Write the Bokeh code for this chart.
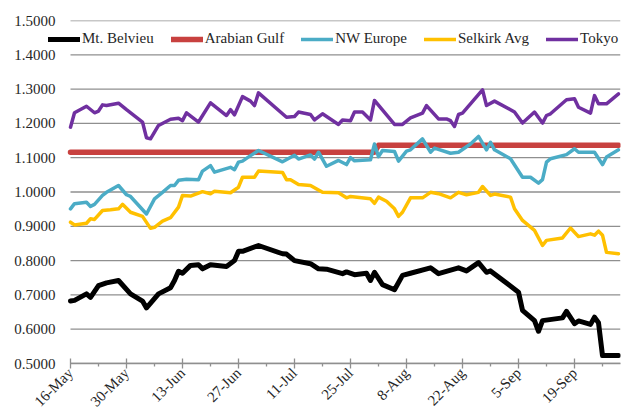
import pandas as pd
from bokeh.plotting import figure
from bokeh.models import FixedTicker, Legend, LegendItem, Range1d, PrintfTickFormatter
from bokeh.embed import file_html
from bokeh.resources import INLINE

# ---------------- data ----------------
tick_dates = ["2011-05-16", "2011-05-30", "2011-06-13", "2011-06-27", "2011-07-11",
              "2011-07-25", "2011-08-08", "2011-08-22", "2011-09-05", "2011-09-19"]
tick_labels = ["16-May", "30-May", "13-Jun", "27-Jun", "11-Jul",
               "25-Jul", "8-Aug", "22-Aug", "5-Sep", "19-Sep"]
y_ticks = [0.5, 0.6, 0.7, 0.8, 0.9, 1.0, 1.1, 1.2, 1.3, 1.4, 1.5]

belvieu_dates = ["2011-05-16", "2011-05-17", "2011-05-20", "2011-05-21", "2011-05-23", "2011-05-25",
                 "2011-05-28", "2011-05-31", "2011-06-03", "2011-06-04", "2011-06-07", "2011-06-10",
                 "2011-06-11", "2011-06-12", "2011-06-13", "2011-06-15", "2011-06-17", "2011-06-18",
                 "2011-06-20", "2011-06-24", "2011-06-26", "2011-06-27", "2011-06-28", "2011-07-02",
                 "2011-07-08", "2011-07-09", "2011-07-11", "2011-07-15", "2011-07-17", "2011-07-19",
                 "2011-07-23", "2011-07-24", "2011-07-26", "2011-07-29", "2011-07-30", "2011-07-31",
                 "2011-08-02", "2011-08-05", "2011-08-07", "2011-08-09", "2011-08-14", "2011-08-16",
                 "2011-08-21", "2011-08-23", "2011-08-26", "2011-08-28", "2011-08-29", "2011-09-05",
                 "2011-09-06", "2011-09-09", "2011-09-10", "2011-09-11", "2011-09-16", "2011-09-17",
                 "2011-09-19", "2011-09-20", "2011-09-23", "2011-09-24", "2011-09-25", "2011-09-26",
                 "2011-09-30"]
belvieu = [0.682, 0.684, 0.703, 0.693, 0.727, 0.735,
           0.742, 0.703, 0.682, 0.662, 0.703, 0.721,
           0.742, 0.769, 0.763, 0.786, 0.788, 0.776,
           0.788, 0.783, 0.800, 0.827, 0.827, 0.844,
           0.820, 0.819, 0.800, 0.791, 0.776, 0.775,
           0.762, 0.767, 0.759, 0.763, 0.742, 0.766,
           0.730, 0.715, 0.757, 0.763, 0.779, 0.762,
           0.779, 0.770, 0.794, 0.766, 0.770, 0.708,
           0.655, 0.625, 0.594, 0.625, 0.633, 0.652,
           0.616, 0.624, 0.614, 0.635, 0.619, 0.523,
           0.523]

arabian_dates = ["2011-05-16", "2011-07-31", "2011-08-01", "2011-09-30"]
arabian = [1.116, 1.116, 1.136, 1.136]

nwe_dates = ["2011-05-16", "2011-05-17", "2011-05-20", "2011-05-21", "2011-05-22", "2011-05-24",
             "2011-05-25", "2011-05-28", "2011-05-30", "2011-05-31", "2011-06-04", "2011-06-06",
             "2011-06-08", "2011-06-10", "2011-06-11", "2011-06-12", "2011-06-14", "2011-06-17",
             "2011-06-18", "2011-06-20", "2011-06-21", "2011-06-25", "2011-06-26", "2011-06-27",
             "2011-06-28", "2011-06-30", "2011-07-02", "2011-07-08", "2011-07-11", "2011-07-12",
             "2011-07-15", "2011-07-16", "2011-07-17", "2011-07-19", "2011-07-22", "2011-07-24",
             "2011-07-25", "2011-07-26", "2011-07-30", "2011-07-31", "2011-08-01", "2011-08-02",
             "2011-08-05", "2011-08-06", "2011-08-08", "2011-08-09", "2011-08-12", "2011-08-14",
             "2011-08-15", "2011-08-19", "2011-08-21", "2011-08-24", "2011-08-26", "2011-08-28",
             "2011-08-29", "2011-08-30", "2011-09-03", "2011-09-06", "2011-09-08", "2011-09-10",
             "2011-09-11", "2011-09-12", "2011-09-13", "2011-09-17", "2011-09-19", "2011-09-20",
             "2011-09-24", "2011-09-26", "2011-09-27", "2011-09-30"]
nwe = [0.951, 0.966, 0.970, 0.958, 0.964, 0.990,
       0.999, 1.019, 0.992, 0.987, 0.936, 0.980,
       0.999, 1.019, 1.019, 1.034, 1.037, 1.036,
       1.061, 1.077, 1.058, 1.072, 1.065, 1.087,
       1.090, 1.106, 1.121, 1.088, 1.107, 1.096,
       1.108, 1.096, 1.116, 1.075, 1.092, 1.080,
       1.100, 1.091, 1.094, 1.140, 1.103, 1.121,
       1.118, 1.090, 1.119, 1.123, 1.155, 1.116,
       1.128, 1.113, 1.116, 1.140, 1.162, 1.123,
       1.145, 1.123, 1.097, 1.043, 1.043, 1.026,
       1.036, 1.087, 1.097, 1.109, 1.126, 1.116,
       1.116, 1.080, 1.102, 1.123]

selkirk_dates = ["2011-05-16", "2011-05-17", "2011-05-20", "2011-05-21", "2011-05-22", "2011-05-24",
                 "2011-05-26", "2011-05-28", "2011-05-29", "2011-05-31", "2011-06-03", "2011-06-05",
                 "2011-06-06", "2011-06-08", "2011-06-10", "2011-06-12", "2011-06-13", "2011-06-15",
                 "2011-06-18", "2011-06-20", "2011-06-21", "2011-06-25", "2011-06-27", "2011-06-28",
                 "2011-07-01", "2011-07-02", "2011-07-08", "2011-07-09", "2011-07-10", "2011-07-12",
                 "2011-07-15", "2011-07-18", "2011-07-22", "2011-07-24", "2011-07-25", "2011-07-30",
                 "2011-07-31", "2011-08-01", "2011-08-03", "2011-08-05", "2011-08-06", "2011-08-07",
                 "2011-08-09", "2011-08-12", "2011-08-14", "2011-08-16", "2011-08-19", "2011-08-21",
                 "2011-08-23", "2011-08-26", "2011-08-27", "2011-08-29", "2011-08-30", "2011-09-03",
                 "2011-09-04", "2011-09-06", "2011-09-09", "2011-09-11", "2011-09-12", "2011-09-16",
                 "2011-09-18", "2011-09-20", "2011-09-23", "2011-09-24", "2011-09-25", "2011-09-26",
                 "2011-09-27", "2011-09-30"]
selkirk = [0.912, 0.904, 0.909, 0.922, 0.920, 0.946,
           0.948, 0.951, 0.964, 0.941, 0.929, 0.894,
           0.897, 0.915, 0.925, 0.956, 0.990, 0.988,
           1.001, 0.995, 1.002, 0.998, 1.014, 1.043,
           1.043, 1.061, 1.057, 1.036, 1.036, 1.022,
           1.019, 0.999, 0.998, 0.983, 0.987, 0.980,
           0.967, 0.985, 0.973, 0.951, 0.929, 0.941,
           0.983, 0.983, 0.999, 0.995, 0.983, 0.999,
           0.992, 0.999, 1.016, 0.990, 0.994, 0.985,
           0.951, 0.917, 0.888, 0.844, 0.859, 0.866,
           0.895, 0.870, 0.878, 0.874, 0.886, 0.874,
           0.824, 0.820]

tokyo_dates = ["2011-05-16", "2011-05-17", "2011-05-20", "2011-05-22", "2011-05-23", "2011-05-24",
               "2011-05-25", "2011-05-28", "2011-05-30", "2011-06-03", "2011-06-04", "2011-06-05",
               "2011-06-07", "2011-06-10", "2011-06-12", "2011-06-13", "2011-06-14", "2011-06-17",
               "2011-06-20", "2011-06-24", "2011-06-25", "2011-06-26", "2011-06-28", "2011-06-30",
               "2011-07-01", "2011-07-02", "2011-07-09", "2011-07-11", "2011-07-12", "2011-07-15",
               "2011-07-16", "2011-07-18", "2011-07-22", "2011-07-23", "2011-07-25", "2011-07-26",
               "2011-07-28", "2011-07-30", "2011-07-31", "2011-08-05", "2011-08-07", "2011-08-09",
               "2011-08-12", "2011-08-13", "2011-08-16", "2011-08-18", "2011-08-19", "2011-08-20",
               "2011-08-21", "2011-08-22", "2011-08-27", "2011-08-28", "2011-08-30", "2011-09-03",
               "2011-09-04", "2011-09-06", "2011-09-09", "2011-09-11", "2011-09-12", "2011-09-13",
               "2011-09-17", "2011-09-19", "2011-09-20", "2011-09-23", "2011-09-24", "2011-09-25",
               "2011-09-27", "2011-09-30"]
tokyo = [1.189, 1.231, 1.250, 1.231, 1.236, 1.254,
         1.252, 1.259, 1.240, 1.204, 1.158, 1.155,
         1.194, 1.212, 1.215, 1.208, 1.231, 1.204,
         1.260, 1.223, 1.240, 1.225, 1.278, 1.265,
         1.252, 1.289, 1.218, 1.220, 1.233, 1.226,
         1.210, 1.228, 1.197, 1.210, 1.208, 1.233,
         1.233, 1.210, 1.267, 1.197, 1.197, 1.216,
         1.230, 1.252, 1.213, 1.213, 1.208, 1.191,
         1.226, 1.230, 1.298, 1.252, 1.265, 1.240,
         1.233, 1.201, 1.233, 1.201, 1.223, 1.228,
         1.269, 1.272, 1.247, 1.230, 1.281, 1.257,
         1.257, 1.286]

series = [
    ("Mt. Belvieu", belvieu_dates, belvieu, "#000000", 5),
    ("Arabian Gulf", arabian_dates, arabian, "#C8413F", 5.5),
    ("NW Europe", nwe_dates, nwe, "#4BACC6", 3.5),
    ("Selkirk Avg", selkirk_dates, selkirk, "#FFC000", 3.5),
    ("Tokyo", tokyo_dates, tokyo, "#7030A0", 3.5),
]

# ---------------- figure ----------------
FONT = "Liberation Serif"
TXT = "#262626"
GRID = "#8f8f8f"
start = pd.Timestamp(tick_dates[0])
end = start + pd.Timedelta(days=137.5)
x_range = Range1d(start=start - pd.Timedelta(days=5.5), end=end)

p = figure(width=624, height=418, x_axis_type="datetime", output_backend="svg",
           toolbar_location=None, x_range=x_range, y_range=Range1d(0.5, 1.5),
           min_border_left=48, min_border_right=4, min_border_top=20, min_border_bottom=55)
p.outline_line_color = None
p.background_fill_color = "white"
p.border_fill_color = "white"
p.xgrid.visible = False
p.ygrid.visible = False

# horizontal gridlines spanning only the dated part of the plot
p.segment(x0=[start] * len(y_ticks), y0=y_ticks, x1=[end] * len(y_ticks), y1=y_ticks,
          line_color=GRID, line_width=1.3)

items = []
for name, d, v, col, w in series:
    r = p.line(pd.to_datetime(d), v, line_color=col, line_width=w,
               line_join="round", line_cap="round")
    items.append(LegendItem(label=name, renderers=[r]))

# x axis
epoch = pd.Timestamp("1970-01-01")
ms = pd.Timedelta(milliseconds=1)
major_ms = [float((t - epoch) // ms) for t in pd.to_datetime(tick_dates)]
minor_ms = [m + 7 * 86400000.0 for m in major_ms]
xa = p.xaxis[0]
xa.ticker = FixedTicker(ticks=major_ms, minor_ticks=minor_ms)
xa.bounds = (float((start - epoch) // ms), float((end - epoch) // ms))
xa.major_label_overrides = {m: lab for m, lab in zip(major_ms, tick_labels)}
xa.major_label_orientation = 0.785398
xa.axis_line_color = GRID
xa.axis_line_width = 1.3
xa.major_tick_line_color = GRID
xa.major_tick_line_width = 1.3
xa.major_tick_in = 5
xa.major_tick_out = 5
xa.minor_tick_line_color = GRID
xa.minor_tick_line_width = 1.3
xa.minor_tick_in = 0
xa.minor_tick_out = 3
xa.major_label_text_font = FONT
xa.major_label_text_font_size = "15px"
xa.major_label_text_color = TXT
xa.major_label_standoff = 2

ya = p.yaxis[0]
ya.ticker = FixedTicker(ticks=y_ticks)
ya.formatter = PrintfTickFormatter(format="%.4f")
ya.axis_line_color = None
ya.major_tick_line_color = None
ya.minor_tick_line_color = None
ya.major_tick_out = 0
ya.major_tick_in = 0
ya.major_label_standoff = -7
ya.major_label_text_font = FONT
ya.major_label_text_font_size = "15px"
ya.major_label_text_color = TXT

legend = Legend(items=items, orientation="horizontal", location=(0, 316),
                glyph_width=32, glyph_height=14, label_standoff=2, spacing=17,
                padding=0, margin=0, border_line_color=None, background_fill_alpha=0,
                label_text_font=FONT, label_text_font_size="15px", label_text_color=TXT)
p.add_layout(legend)

open("out.html", "w").write(file_html(p, INLINE))
